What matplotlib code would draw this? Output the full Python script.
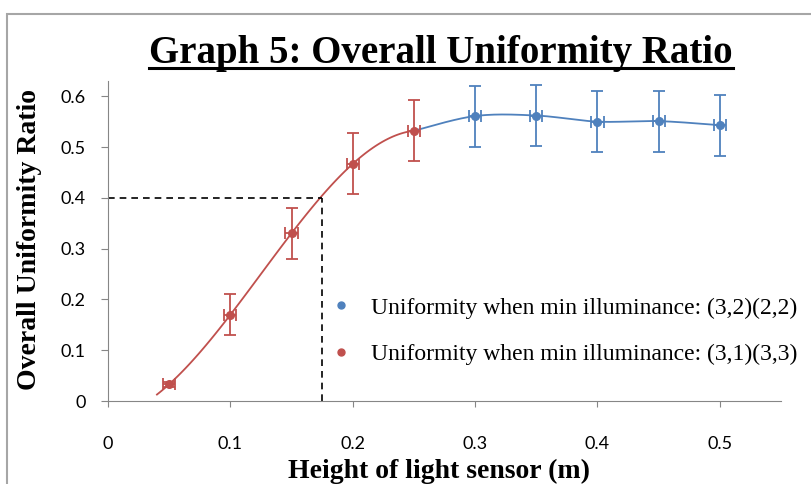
import numpy as np
import matplotlib.pyplot as plt
from matplotlib.lines import Line2D
from matplotlib.patches import Rectangle

# --- DATA ---
red_x = [0.05, 0.10, 0.15, 0.20, 0.25]
red_y = [0.033, 0.170, 0.330, 0.467, 0.532]
red_yerr = [0.005, 0.040, 0.050, 0.060, 0.060]
blue_x = [0.30, 0.35, 0.40, 0.45, 0.50]
blue_y = [0.561, 0.562, 0.550, 0.551, 0.543]
blue_yerr = [0.060, 0.060, 0.060, 0.060, 0.060]
x_err = 0.005
target_y = 0.4
target_x = 0.175
legend_labels = ['Uniformity when min illuminance: (3,2)(2,2)',
                 'Uniformity when min illuminance: (3,1)(3,3)']

BLUE = '#4F81BD'
RED = '#C0504D'
serif = 'Liberation Serif'
sans = 'Lato'


def catmull_rom(xs, ys, n=40):
    # Excel style smoothed line through the points
    p = np.column_stack([xs, ys])
    p = np.vstack([p[0], p, p[-1]])
    out = []
    for i in range(1, len(p) - 2):
        p0, p1, p2, p3 = p[i - 1], p[i], p[i + 1], p[i + 2]
        t = np.linspace(0, 1, n)[:, None]
        seg = 0.5 * ((2 * p1) + (-p0 + p2) * t + (2 * p0 - 5 * p1 + 4 * p2 - p3) * t ** 2
                     + (-p0 + 3 * p1 - 3 * p2 + p3) * t ** 3)
        out.append(seg)
    out = np.vstack(out)
    return out[:, 0], out[:, 1]


fig = plt.figure(figsize=(8.11, 4.84), dpi=100)
ax = fig.add_axes([108 / 811, 1 - 401 / 484, (781 - 108) / 811, 320 / 484])

# outer chart frame
fig.patches.append(Rectangle((7 / 811, -0.1), 1.2, 1 - 14 / 484 + 0.1, transform=fig.transFigure,
                             fill=False, edgecolor='#a6a6a6', linewidth=1.5))

# trend curves
coef = np.polyfit(red_x, red_y, 3)
rx = np.linspace(0.04, 0.25, 100)
ax.plot(rx, np.polyval(coef, rx), color=RED, linewidth=1.3, zorder=2)
bx, by = catmull_rom([0.25] + blue_x, [np.polyval(coef, 0.25)] + blue_y)
ax.plot(bx, by, color=BLUE, linewidth=1.3, zorder=2)

ax.errorbar(red_x, red_y, yerr=red_yerr, xerr=x_err, fmt='o', color=RED, markersize=5.5,
            capsize=4, elinewidth=1.3, capthick=1.3, zorder=3)
ax.errorbar(blue_x, blue_y, yerr=blue_yerr, xerr=x_err, fmt='o', color=BLUE, markersize=5.5,
            capsize=4, elinewidth=1.3, capthick=1.3, zorder=3)

# guide lines
ax.plot([0, target_x], [target_y, target_y], color='black', linestyle=(0, (4, 3)), linewidth=1.2)
ax.plot([target_x, target_x], [0, target_y], color='black', linestyle=(0, (4, 3)), linewidth=1.2)

ax.set_xlim(0, 0.55)
ax.set_ylim(0, 0.63)
ax.set_xticks([0, 0.1, 0.2, 0.3, 0.4, 0.5])
ax.set_xticklabels(['0', '0.1', '0.2', '0.3', '0.4', '0.5'])
ax.set_yticks([0, 0.1, 0.2, 0.3, 0.4, 0.5, 0.6])
ax.set_yticklabels(['0', '0.1', '0.2', '0.3', '0.4', '0.5', '0.6'])
for s in ['top', 'right']:
    ax.spines[s].set_visible(False)
for s in ['left', 'bottom']:
    ax.spines[s].set_color('#868686')
ax.tick_params(axis='y', length=5, color='#868686', pad=11, labelsize=13)
ax.tick_params(axis='x', length=4, color='#868686', pad=21, labelsize=13)
for lab in ax.get_xticklabels() + ax.get_yticklabels():
    lab.set_fontfamily(sans)

handles = [Line2D([], [], marker='o', linestyle='none', color=c, markersize=5) for c in (BLUE, RED)]
ax.legend(handles, legend_labels, loc='upper left', bbox_to_anchor=(0.329, 0.325), frameon=False,
          prop={'family': serif, 'size': 17}, handletextpad=0.75, labelspacing=1.05,
          borderaxespad=0, borderpad=0, handlelength=1.0)

title = fig.text(441 / 811, 1 - 63 / 484, 'Graph 5: Overall Uniformity Ratio', ha='center',
                 va='baseline', fontfamily=serif, fontweight='bold', fontsize=28)
fig.text(30 / 811, 1 - 240 / 484, 'Overall Uniformity Ratio', ha='center', va='center', rotation=90,
         fontfamily=serif, fontweight='bold', fontsize=20)
fig.text(439 / 811, 1 - 471 / 484, 'Height of light sensor (m)', ha='center', va='center',
         fontfamily=serif, fontweight='bold', fontsize=20)

# underline for the title, matched to its drawn width
fig.canvas.draw()
bb = title.get_window_extent().transformed(fig.transFigure.inverted())
fig.add_artist(Line2D([bb.x0, bb.x1], [1 - 67.5 / 484, 1 - 67.5 / 484], color='black',
                      linewidth=2.2, transform=fig.transFigure))

fig.savefig('out.png', dpi=100)
